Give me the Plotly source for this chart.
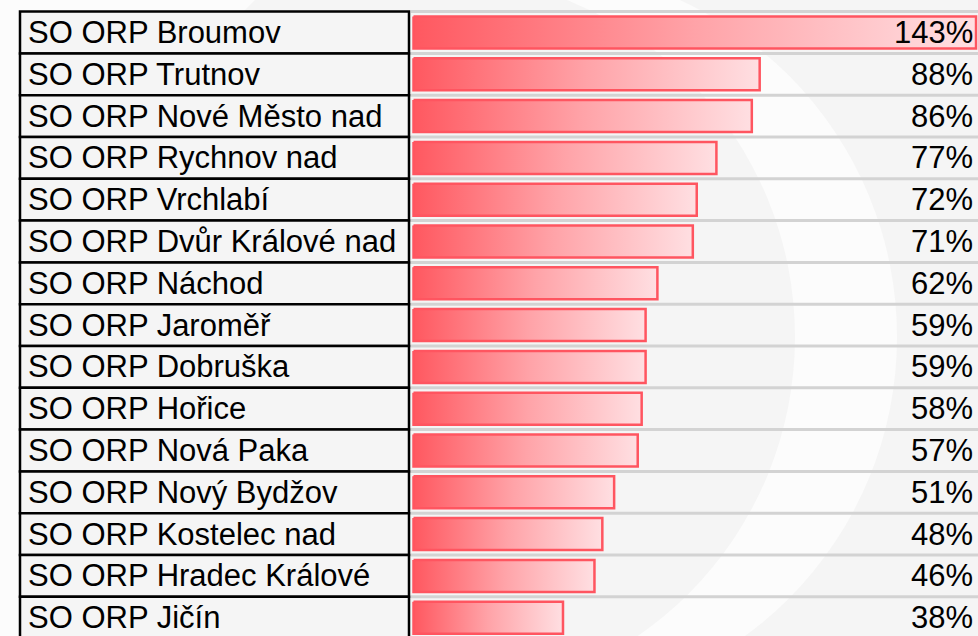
import plotly.graph_objects as go

categories = [
    "SO ORP Broumov", "SO ORP Trutnov", "SO ORP Nové Město nad", "SO ORP Rychnov nad",
    "SO ORP Vrchlabí", "SO ORP Dvůr Králové nad", "SO ORP Náchod", "SO ORP Jaroměř",
    "SO ORP Dobruška", "SO ORP Hořice", "SO ORP Nová Paka", "SO ORP Nový Bydžov",
    "SO ORP Kostelec nad", "SO ORP Hradec Králové", "SO ORP Jičín",
]
values = [143, 88, 86, 77, 72, 71, 62, 59, 59, 58, 57, 51, 48, 46, 38]
value_labels = [f"{v}%" for v in values]

W, H = 978, 636
FONT = "Liberation Sans, Arial, sans-serif"


def px(x):
    return x / W


def py(y):
    return 1 - y / H


fig = go.Figure()

half = 0.383
for i, (cat, val) in enumerate(zip(categories, values)):
    fig.add_trace(go.Scatter(
        x=[0, val, val, 0, 0],
        y=[i - half, i - half, i + half, i + half, i - half],
        mode="lines",
        fill="toself",
        fillgradient=dict(type="horizontal",
                          colorscale=[[0, "#ff5860"], [0.5, "#ffa3a8"], [1, "#ffdfe2"]]),
        line=dict(color="#ff5560", width=2.5),
        hoverinfo="skip",
        showlegend=False,
        name=cat,
    ))

shapes = []
# faint watermark
shapes.append(dict(type="circle", xref="paper", yref="paper", layer="below",
                   x0=px(527 - 370), x1=px(527 + 370), y0=py(337 + 370), y1=py(337 - 370),
                   fillcolor="#fcfcfc", line=dict(width=0)))
shapes.append(dict(type="circle", xref="paper", yref="paper", layer="below",
                   x0=px(432 - 363), x1=px(432 + 363), y0=py(337 + 363), y1=py(337 - 363),
                   fillcolor="#f5f5f5", line=dict(width=0)))
shapes.append(dict(type="rect", xref="paper", yref="paper", layer="below",
                   x0=0, x1=px(20), y0=0, y1=1, fillcolor="#fcfcfc", line=dict(width=0)))
shapes.append(dict(type="path", xref="paper", yref="paper", layer="below",
                   path=f"M 0 1 L {px(255)} 1 L 0 {py(255)} Z",
                   fillcolor="#fcfcfc", line=dict(width=0)))

# gridlines between rows
for i in range(len(categories) + 1):
    shapes.append(dict(type="line", xref="paper", yref="y", layer="below",
                       x0=px(411), x1=1, y0=i - 0.5, y1=i - 0.5,
                       line=dict(color="#d3d3d3", width=3)))

# label table cells
for i, cat in enumerate(categories):
    shapes.append(dict(type="rect", xref="paper", yref="y", layer="below",
                       x0=px(20), x1=px(409), y0=i - 0.5, y1=i + 0.5,
                       fillcolor="#f5f5f5", line=dict(color="black", width=2.5)))

annotations = []
for i, cat in enumerate(categories):
    annotations.append(dict(xref="paper", yref="y", x=px(26), y=i, text=cat,
                            xanchor="left", yanchor="middle", showarrow=False,
                            font=dict(family=FONT, size=31, color="black")))
for i, lab in enumerate(value_labels):
    annotations.append(dict(xref="paper", yref="y", x=px(975), y=i, text=lab,
                            xanchor="right", yanchor="middle", showarrow=False,
                            font=dict(family=FONT, size=31, color="black")))

fig.update_layout(
    width=W, height=H,
    margin=dict(l=0, r=0, t=0, b=0),
    paper_bgcolor="#f5f5f5",
    plot_bgcolor="rgba(0,0,0,0)",
    shapes=shapes,
    annotations=annotations,
    xaxis=dict(domain=[409.5 / W, 1], range=[-1.02, 143.5], visible=False, fixedrange=True),
    yaxis=dict(domain=[0, 1], range=[14.438, -0.778], visible=False, fixedrange=True),
    showlegend=False,
)

fig.write_html(
    "out.html",
    config={"displayModeBar": False},
    post_script="document.body.style.margin='0px';document.body.style.overflow='hidden';",
)
